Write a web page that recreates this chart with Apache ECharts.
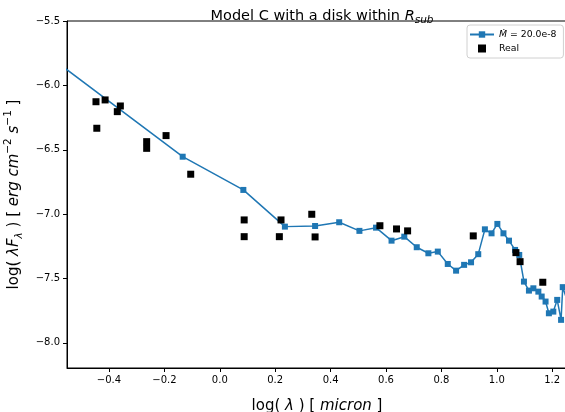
<!DOCTYPE html>
<html>
<head>
<meta charset="utf-8">
<script src="https://cdn.jsdelivr.net/npm/echarts@6/dist/echarts.min.js"></script>
<style>html,body{margin:0;padding:0;background:#fff}#c{width:565px;height:412px}</style>
</head>
<body>
<div id="c"></div>
<script>
// Model curve (M-dot = 20.0e-8)
const modelX = [-0.600, -0.134, 0.085, 0.235, 0.344, 0.431, 0.504, 0.564, 0.620, 0.666, 0.711, 0.753, 0.787, 0.823, 0.853, 0.882, 0.907, 0.933, 0.957, 0.981, 1.002, 1.024, 1.044, 1.066, 1.081, 1.098, 1.116, 1.132, 1.150, 1.162, 1.176, 1.188, 1.204, 1.218, 1.232, 1.238, 1.262];
const modelY = [-5.800, -6.554, -6.812, -7.097, -7.092, -7.063, -7.130, -7.105, -7.206, -7.175, -7.257, -7.304, -7.291, -7.387, -7.439, -7.394, -7.374, -7.311, -7.118, -7.149, -7.076, -7.149, -7.206, -7.278, -7.317, -7.524, -7.594, -7.576, -7.602, -7.640, -7.679, -7.770, -7.757, -7.666, -7.821, -7.567, -7.720];
// Observed ("Real") points
const realX = [-0.447, -0.414, -0.444, -0.370, -0.359, -0.264, -0.264, -0.194, -0.105, 0.088, 0.088, 0.221, 0.215, 0.332, 0.344, 0.578, 0.638, 0.678, 0.915, 1.069, 1.084, 1.166];
const realY = [-6.127, -6.113, -6.333, -6.204, -6.160, -6.437, -6.489, -6.390, -6.690, -7.045, -7.175, -7.045, -7.175, -7.001, -7.177, -7.090, -7.115, -7.130, -7.169, -7.299, -7.369, -7.529];
// Axis ticks
const xTicks = [-0.4, -0.2, 0.0, 0.2, 0.4, 0.6, 0.8, 1.0, 1.2];
const yTicks = [-8.0, -7.5, -7.0, -6.5, -6.0, -5.5];
const xMin = -0.5516, xMax = 1.2534, yMin = -8.195, yMax = -5.5;

const FONT = 'DejaVu Sans';
const fmt = v => (v < 0 ? '\u2212' : '') + Math.abs(v).toFixed(1);
const zip = (a, b) => a.map((v, i) => [v, b[i]]);

const chart = echarts.init(document.getElementById('c'), null, {renderer: 'canvas'});
chart.setOption({
  animation: false,
  backgroundColor: '#fff',
  textStyle: {fontFamily: FONT},
  title: {
    text: '{n|Model C with a disk within }{i|R}{s|sub}',
    left: 317, top: 1, textAlign: 'center',
    textStyle: {
      fontFamily: FONT, fontWeight: 'normal',
      rich: {
        n: {fontSize: 14.5, fontFamily: FONT, fontWeight: 'normal', color: '#000', lineHeight: 20, verticalAlign: 'middle'},
        i: {fontSize: 14.5, fontFamily: FONT, fontWeight: 'normal', fontStyle: 'italic', color: '#000', lineHeight: 20, verticalAlign: 'middle'},
        s: {fontSize: 10.5, fontFamily: FONT, fontWeight: 'normal', fontStyle: 'italic', color: '#000', lineHeight: 20, verticalAlign: 'bottom', padding: [6, 0, 0, 0]}
      }
    }
  },
  grid: {left: 67, top: 21, width: 500, height: 347, show: true, borderColor: '#000', borderWidth: 1, containLabel: false, outerBoundsMode: 'none'},
  legend: {
    orient: 'vertical', left: 467, top: 25,
    padding: [5, 7, 5, 2], itemGap: 5, itemWidth: 24, itemHeight: 8,
    borderColor: '#d0d0d0', borderWidth: 1, borderRadius: 3, backgroundColor: '#fff',
    textStyle: {fontFamily: FONT, fontSize: 9.3, color: '#000',
      rich: {i: {fontFamily: FONT, fontSize: 9.3, fontStyle: 'italic', color: '#000'}}},
    formatter: n => n === 'model' ? '{i|\u1E40} = 20.0e-8' : n,
    data: ['model', {name: 'Real', icon: 'path://M0,0H10V10H0Z'}]
  },
  xAxis: {
    type: 'value', min: xMin, max: xMax,
    name: '{n|log( }{i|\u03BB}{n| ) [ }{i|micron}{n| ]}',
    nameLocation: 'middle', nameGap: 31,
    nameTextStyle: {rich: {
      n: {fontFamily: FONT, fontSize: 15, color: '#000'},
      i: {fontFamily: FONT, fontSize: 15, fontStyle: 'italic', color: '#000'}
    }},
    axisLine: {show: true, onZero: false, lineStyle: {color: '#000', width: 1}},
    axisTick: {show: true, inside: false, length: 4, lineStyle: {color: '#000'}, customValues: xTicks},
    axisLabel: {show: true, margin: 7, fontFamily: FONT, fontSize: 10, color: '#000', customValues: xTicks, formatter: fmt},
    splitLine: {show: false}
  },
  yAxis: {
    type: 'value', min: yMin, max: yMax,
    name: '{n|log( }{i|\u03BBF}{sb|\u03BB}{n| ) [ }{i|erg cm}{sp|\u22122}{i| s}{sp|\u22121}{n| ]}',
    nameLocation: 'middle', nameGap: 36, nameRotate: 90,
    nameTextStyle: {rich: {
      n: {fontFamily: FONT, fontSize: 15, color: '#000', lineHeight: 22, verticalAlign: 'middle'},
      i: {fontFamily: FONT, fontSize: 15, fontStyle: 'italic', color: '#000', lineHeight: 22, verticalAlign: 'middle'},
      sb: {fontFamily: FONT, fontSize: 10.5, fontStyle: 'italic', color: '#000', lineHeight: 22, verticalAlign: 'bottom', padding: [7, 0, 0, 0]},
      sp: {fontFamily: FONT, fontSize: 10.5, color: '#000', lineHeight: 22, verticalAlign: 'top', padding: [0, 0, 7, 0]}
    }},
    axisLine: {show: true, onZero: false, lineStyle: {color: '#000', width: 1}},
    axisTick: {show: true, inside: false, length: 4, lineStyle: {color: '#000'}, customValues: yTicks},
    axisLabel: {show: true, margin: 7, fontFamily: FONT, fontSize: 10, color: '#000', customValues: yTicks, formatter: fmt},
    splitLine: {show: false}
  },
  series: [
    {
      name: 'model', type: 'line', data: zip(modelX, modelY),
      symbol: 'rect', symbolSize: 6, showAllSymbol: true, clip: true,
      itemStyle: {color: '#1f77b4'}, lineStyle: {color: '#1f77b4', width: 1.5}, z: 2
    },
    {
      name: 'Real', type: 'scatter', data: zip(realX, realY),
      symbol: 'rect', symbolSize: 7, clip: true,
      itemStyle: {color: '#000', opacity: 1}, z: 3
    }
  ]
});
</script>
</body>
</html>
